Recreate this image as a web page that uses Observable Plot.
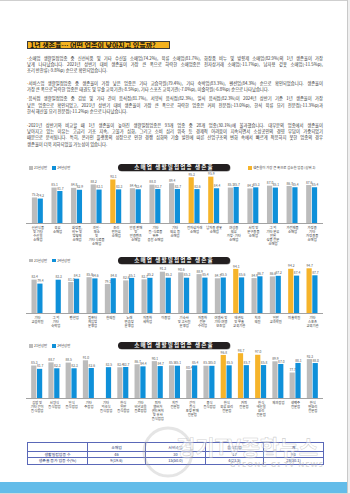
<!DOCTYPE html>
<html><head><meta charset="utf-8">
<script src="https://cdn.jsdelivr.net/npm/d3@7"></script>
<script src="https://cdn.jsdelivr.net/npm/@observablehq/plot@0.6"></script>
<style>
html,body{margin:0;padding:0;background:#fff;}
#page{position:relative;width:350px;height:494px;overflow:hidden;font-family:"Noto Sans CJK KR","Noto Sans",sans-serif;background:#fff;}
.abs{position:absolute;}
.title{left:27px;top:40.5px;width:143px;height:8.8px;box-sizing:border-box;background:#f4b21f;border:0.8px solid #3b3b3b;font-weight:700;font-size:7px;line-height:7.4px;padding-left:2px;color:#111;white-space:nowrap;overflow:hidden;}
.para{position:absolute;left:27px;width:296px;font-size:4.3px;line-height:6.2px;color:#333;}
.ln{white-space:nowrap;height:6.2px;}
.ln.j{text-align:justify;text-align-last:justify;}
.dash{color:#f0a21a;font-weight:700;}
.pill{left:118px;width:112px;height:7px;background:#231f20;border-radius:3.5px;color:#fff;font-weight:700;font-size:5.6px;line-height:7px;text-align:center;letter-spacing:1.1px;white-space:nowrap;z-index:5;box-shadow:0.5px 0.5px 0 #888;}
.leg{font-size:3.4px;line-height:4px;color:#444;white-space:nowrap;z-index:5;}
.sw{display:inline-block;width:4px;height:3.6px;vertical-align:-0.6px;margin-right:1px;}
svg.chart{position:absolute;left:0;}
table.tb{position:absolute;left:27px;top:442px;width:296px;border-collapse:collapse;table-layout:fixed;font-size:3.9px;color:#24306b;}
table.tb td{border:0.7px solid #5a68b8;padding:0;text-align:center;white-space:nowrap;line-height:5px;}
</style></head><body><div id="page">
<div class="abs" style="left:0;top:0;width:350px;height:1px;background:#cfcfcf"></div>
<div class="abs" style="left:347px;top:0;width:3px;height:494px;background:#efefef;border-left:1px solid #c9c9c9"></div>
<div class="abs title"><span id="ttl">1년 생존율… 어떤 업종이 낮아지고 있을까?</span></div>
<div class="para" style="top:54.5px">
<div class="ln" data-j="1"><span><b class="dash">-</b>소매업 생활밀접업종 중 신선식품 및 기타 수산물 소매업(74.2%), 육류 소매업(81.7%), 화장품 비누 및 방향제 소매업(82.9%)의 1년 생존율이 가장</span></div>
<div class="ln" data-j="1"><span>낮게 나타났습니다. 2021년 상반기 대비 생존율이 가장 큰 폭으로 하락한 소매업종은 전자상거래 소매업(-11.7%p), 남자용 겉옷 소매업(-11.5%p),</span></div>
<div class="ln"><span>조리 반찬류(-9.8%p) 순으로 확인되었습니다.</span></div>
</div>
<div class="para" style="top:79.8px">
<div class="ln" data-j="1"><span><b class="dash">-</b>서비스업 생활밀접업종 중 생존율이 가장 낮은 업종은 기타 교습학원(79.4%), 기타 숙박업(83.3%), 펜션업(84.3%) 순으로 확인되었습니다. 생존율이</span></div>
<div class="ln"><span>가장 큰 폭으로 하락한 업종은 태권도 및 무술 교육기관(-8.5%p), 기타 스포츠 교육기관(-7.0%p), 미술학원(-6.8%p) 순으로 나타났습니다.</span></div>
</div>
<div class="para" style="top:95.4px">
<div class="ln" data-j="1"><span><b class="dash">-</b>음식점 생활밀접업종 중 김밥 및 기타 간이 음식점(81.7%), 서양식 음식점(82.3%), 일식 음식점(82.3%)이 2024년 상반기 기준 1년 생존율이 가장</span></div>
<div class="ln" data-j="1"><span>낮은 업종으로 확인되었고, 2021년 상반기 대비 생존율이 가장 큰 폭으로 하락한 업종은 커피 전문점(-13.0%p), 한식 육류 요리 전문점(-11.3%p)과</span></div>
<div class="ln"><span>한식 해산물 요리 전문점(-11.2%p) 순으로 나타났습니다.</span></div>
</div>
<div class="para" style="top:122px">
<div class="ln" data-j="1"><span><b class="dash">-</b>2021년 상반기와 비교할 때 1년 생존율이 높아진 생활밀접업종은 93개 업종 중 28개 업종(30.1%)에 불과했습니다. 대부분의 업종에서 생존율이</span></div>
<div class="ln" data-j="1"><span>낮아지고 있는 이유는 고금리 기조 지속, 고물가 심화, 그리고 소비 심리 위축 등 경제적 어려움이 지속되면서 소상공인의 경영 부담이 가중되었기</span></div>
<div class="ln" data-j="1"><span>때문으로 분석됩니다. 특히, 온라인 플랫폼의 성장으로 인한 경쟁 심화와 기술 발전에 따른 산업구조의 변화 속에서 빠르게 적응하지 못한 업종의 경우</span></div>
<div class="ln"><span>생존율이 더욱 저하되었을 가능성이 있습니다.</span></div>
</div>
<div id="charts"></div>
<div class="abs pill" style="top:163.5px">소매업 생활밀접업종 생존율</div>
<div class="abs pill" style="top:257px">소매업 생활밀접업종 생존율</div>
<div class="abs pill" style="top:342px">소매업 생활밀접업종 생존율</div>
<div class="abs leg" id="leg1" style="left:29px;top:166px"></div>
<div class="abs leg" id="leg2" style="left:29px;top:258.5px"></div>
<div class="abs leg" id="leg3" style="left:29px;top:344px"></div>
<div class="abs leg" id="legTop" style="left:248px;top:166px"></div>
<div id="tablebox"></div>
<svg class="abs" style="left:0;top:0;z-index:8;pointer-events:none" width="350" height="494">
<circle cx="168" cy="452" r="24" fill="none" stroke="rgba(170,170,170,0.3)" stroke-width="3"/>
<text x="176" y="455" font-size="21" font-weight="700" font-family="Noto Sans CJK KR" fill="rgba(255,255,255,0.45)" stroke="rgba(150,150,150,0.45)" stroke-width="0.6">경기TV종합뉴스</text>
<text x="230" y="467" font-size="7.5" font-weight="700" font-family="Noto Sans" letter-spacing="1" fill="rgba(185,185,185,0.55)">GYEONG GI TV NEWS</text>
</svg>
<div class="abs" style="left:0;top:482px;width:347px;height:11px;background:#63bce9"></div>
<div class="abs" style="left:0;top:493px;width:350px;height:1px;background:#d8d8d8"></div>
</div>
<script>
// ---------- data ----------
const seriesNames = ["21년상반", "24년상반"];
const topLegend = "생존율이 가장 큰 폭으로 감소한 업종 (상위 3)";

const retailCats = ["신선식품\n및 기타\n수산물\n소매업","육류\n소매업","화장품,\n비누 및\n방향제\n소매업","과일·\n채소\n및\n기타 식료품\n소매업","조리\n반찬류\n소매업","안경 판매\n및\n안경렌즈\n소매업","기타\n음·식료품\n위주\n종합 소매업","기타\n의류 등\n소매업","전자상거래\n소매업","남자용 겉옷\n소매업","여성용\n의류\n가방·기타\n소매업","서적 및\n문구용품\n소매업","그 외\n기타 분류\n안된\n상품 전문\n소매업","가전제품\n소매업","가정용\n기타\n가정용품\n소매업"];
const retail21 = [75.3, 85.1, 84.8, 88.2, 93.1, 84.4, 88.0, 89.4, 95.3, 95.9, 85.1, 84.2, 87.0, 86.7, 87.6];
const retail24 = [74.2, 81.7, 82.9, 83.1, 83.3, 83.4, 83.7, 83.7, 83.6, 84.4, 85.7, 85.3, 85.1, 85.4, 85.4];
const retailTop3 = ["조리\n반찬류\n소매업", "전자상거래\n소매업", "남자용 겉옷\n소매업"];

const serviceCats = ["기타\n교습학원","그 외\n기타\n숙박업","펜션업","컴퓨터\n게임방\n운영업","한의원","노래\n연습장\n운영업","자동차\n세차업","이용업","기숙사\n및 고시원\n운영업","자동차\n전문\n수리업","여행사 및\n기타 여행\n보조업","태권도\n및 무술\n교육기관","치과\n의원","일반\n교과학원","미술학원","기타\n스포츠\n교육기관"];
const service21 = [83.4, null, 81.0, 85.8, 79.1, 82.6, 83.7, 91.3, 90.6, 88.9, 84.7, 94.1, 84.9, 86.6, 94.2, 94.7];
const service24 = [79.4, 83.3, 84.3, 84.6, 84.8, 85.1, 85.2, 85.3, 85.3, 85.4, 85.5, 85.6, 86.7, 87.2, 87.4, 87.7];
const serviceTop3 = ["태권도\n및 무술\n교육기관", "미술학원", "기타\n스포츠\n교육기관"];

const foodCats = ["김밥 및\n기타 간이\n음식점업","서양식\n음식점업","일식\n음식점업","기타\n주점업","기타\n외국식\n음식점업","한식\n일반\n음식점업","기타\n비알코올\n음료점업","피자\n햄버거\n샌드위치\n및 유사\n음식점업","치킨\n전문점","간이\n음식\n포장 판매\n전문점","중식\n음식점업","한식\n육류 요리\n전문점","커피\n전문점","한식\n해산물\n요리\n전문점","제과점업","생맥주\n전문점","한식\n면요리\n전문점"];
const food21 = [85.3, 88.7, 88.5, 91.0, null, 83.4, 86.7, 90.1, 85.5, 80.4, 85.1, 96.8, 98.7, 97.0, 89.9, 77.7, 92.3];
const food24 = [81.7, 82.3, 82.3, 82.6, 83.5, 83.7, 84.4, 84.7, 85.1, 85.4, 85.0, 85.5, 85.7, 85.8, 87.0, 88.1, 88.0];
const foodTop3 = ["한식\n육류 요리\n전문점", "커피\n전문점", "한식\n해산물\n요리\n전문점"];

const tableCols = ["", "소매업", "서비스업", "음식점업", "계"];
const tableRowNames = ["생활밀접업종 수", "생존율 증가 업종 수(%)"];
const tableCounts = ["46", "30", "17", "93"];
const tableUp = ["9(19.6)", "15(50.0)", "4(23.5)", "28(30.1)"];

// ---------- styles ----------
const GRAY = "#bcbcbc", BLUE = "#0f90d9", ORANGE = "#f6b42a";
const FONT = '"Noto Sans CJK KR","Noto Sans",sans-serif';

// title fitting
(function(){
  const t = document.getElementById("ttl");
  const w = t.getBoundingClientRect().width;
  if (w > 136) t.parentNode.style.fontSize = (7 * 136 / w) + "px";
})();

// paragraph fitting
document.querySelectorAll(".ln").forEach(ln => {
  const sp = ln.querySelector("span");
  const w = sp.getBoundingClientRect().width;
  if (w > 296) sp.style.letterSpacing = ((296 - w) / sp.textContent.length - 0.005) + "px";
  if (ln.dataset.j) ln.classList.add("j");
});

// legends
function legendHTML(items) {
  return items.map(([c, t]) => `<span class="sw" style="background:${c}"></span><span style="margin-right:5px">${t}</span>`).join("");
}
["leg1","leg2","leg3"].forEach(id => document.getElementById(id).innerHTML = legendHTML([[GRAY, seriesNames[0]], [BLUE, seriesNames[1]]]));
document.getElementById("legTop").innerHTML = legendHTML([[ORANGE, topLegend]]);

// charts
function groupedChart(cats, v21, v24, top3, cfg) {
  const rows = cats.map((c, i) => ({c, a: v21[i], b: v24[i], hi: top3.includes(c)}));
  const n = cats.length, pO = 0.3, pI = cfg.pad;
  const step = 297 / (n - pI + 2 * pO);
  const half = step * (1 - pI) / 2;
  const ins = half + 0.3;
  const off = ins / 2;
  const marginTop = cfg.y100 - cfg.top;
  const marginBottom = cfg.height - (cfg.base - cfg.top);
  const svg = Plot.plot({
    width: 350, height: cfg.height,
    marginLeft: 26, marginRight: 27, marginTop, marginBottom,
    x: {domain: cats, paddingInner: pI, paddingOuter: pO, round: false, axis: null},
    y: {domain: [50, 100], axis: null},
    color: {type: "identity"},
    style: {background: "transparent", overflow: "visible", fontFamily: FONT},
    marks: [
      Plot.barY(rows.filter(d => d.a != null), {x: "c", y1: 50, y2: "a", fill: d => d.hi ? ORANGE : GRAY, insetRight: ins}),
      Plot.barY(rows, {x: "c", y1: 50, y2: "b", fill: BLUE, insetLeft: ins}),
      Plot.ruleY([50], {stroke: "#8c8c8c", strokeWidth: 0.8}),
      Plot.text(rows.filter(d => d.a != null), {x: "c", y: "a", text: d => d.a.toFixed(1), dx: -off, dy: -1.9, fontSize: 3.3, fill: "#555", lineAnchor: "bottom"}),
      Plot.text(rows, {x: "c", y: "b", text: d => d.b.toFixed(1), dx: off, dy: -1.9, fontSize: 3.3, fill: "#555", lineAnchor: "bottom"}),
      Plot.text(rows, {x: "c", y: 50, text: "c", dy: 3, lineAnchor: "top", fontSize: 3.3, lineHeight: 1.2, fill: "#333"})
    ]
  });
  svg.classList.add("chart");
  svg.style.top = cfg.top + "px";
  svg.style.position = "absolute";
  svg.style.left = "0px";
  document.getElementById("charts").appendChild(svg);
}
groupedChart(retailCats, retail21, retail24, retailTop3, {top: 170, height: 84, base: 223, y100: 172.5, pad: 0.44});
groupedChart(serviceCats, service21, service24, serviceTop3, {top: 255, height: 82, base: 313, y100: 263, pad: 0.40});
groupedChart(foodCats, food21, food24, foodTop3, {top: 340, height: 88, base: 398, y100: 352, pad: 0.36});

// table
const colW = [60, 58, 60, 58, 60];
let html = '<table class="tb"><colgroup>' + colW.map(w => `<col style="width:${w}px">`).join("") + '</colgroup>';
html += '<tr style="height:9px">' + tableCols.map(c => `<td>${c}</td>`).join("") + '</tr>';
html += '<tr style="height:5.8px"><td>' + tableRowNames[0] + '</td>' + tableCounts.map(v => `<td>${v}</td>`).join("") + '</tr>';
html += '<tr style="height:6.5px"><td>' + tableRowNames[1] + '</td>' + tableUp.map(v => `<td>${v}</td>`).join("") + '</tr></table>';
document.getElementById("tablebox").innerHTML = html;
</script>
</body></html>
